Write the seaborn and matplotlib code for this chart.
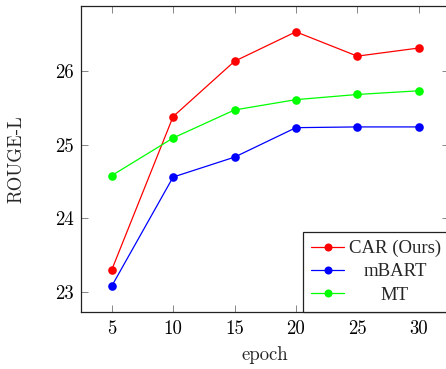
import matplotlib
matplotlib.use("Agg")
import matplotlib.pyplot as plt
from matplotlib.transforms import Affine2D
import seaborn as sns
import pandas as pd

epochs = [5, 10, 15, 20, 25, 30]
car = [23.30, 25.38, 26.13, 26.53, 26.20, 26.31]
mbart = [23.08, 24.56, 24.83, 25.23, 25.24, 25.24]
mt = [24.58, 25.09, 25.47, 25.61, 25.68, 25.73]
series_names = ["CAR (Ours)", "mBART", "MT"]
series_colors = ["#ff0000", "#0000ff", "#00ff00"]
xticks = [5, 10, 15, 20, 25, 30]
yticks = [23, 24, 25, 26]

sns.set_style("ticks")
plt.rcParams["font.family"] = ["cmr10", "DejaVu Serif"]
plt.rcParams["axes.unicode_minus"] = False
plt.rcParams["axes.formatter.use_mathtext"] = True

rows = []
for name, vals in zip(series_names, [car, mbart, mt]):
    for e, v in zip(epochs, vals):
        rows.append({"epoch": e, "score": v, "model": name})
df = pd.DataFrame(rows)

fig = plt.figure(figsize=(4.46, 3.69), dpi=100)
ax = fig.add_axes([81 / 446, 57 / 369, 368.4 / 446, 306 / 369])

sns.lineplot(data=df, x="epoch", y="score", hue="model", hue_order=series_names,
             palette=series_colors, marker="o", markersize=6.2, markeredgewidth=0,
             linewidth=0.9, ax=ax, legend=True)

ax.set_xlim(2.5, 32.5)
ax.set_ylim(22.73, 26.88)
ax.set_xticks(xticks)
ax.set_yticks(yticks)
ax.set_xticklabels([str(t) for t in xticks])
ax.set_yticklabels([str(t) for t in yticks])
ax.tick_params(direction="in", length=5, width=0.6, color="0.45", labelsize=13.5,
               top=True, right=True, labelcolor="black")
ax.tick_params(axis="x", pad=6)
ax.tick_params(axis="y", pad=5)
for s in ax.spines.values():
    s.set_linewidth(0.9)
    s.set_color("#222222")

ax.set_xlabel("epoch", fontsize=13.5)
ax.set_ylabel("ROUGE-L", fontsize=13.5)
ax.xaxis.set_label_coords(0.5, -0.11)
ax.yaxis.set_label_coords(-0.152, 0.5)

leg = ax.legend(loc="lower right", bbox_to_anchor=(1, 0), borderaxespad=0,
                prop={"family": ["Liberation Serif"], "size": 13.5},
                frameon=True, fancybox=False, handlelength=1.75,
                handletextpad=0.25, labelspacing=0.32, borderpad=0.45)
frame = leg.get_frame()
frame.set_edgecolor("#222222")
frame.set_linewidth(0.9)
frame.set_alpha(1)
for h in leg.legend_handles:
    h.set_markersize(5.8)

fig.canvas.draw()
r = fig.canvas.get_renderer()
texts = leg.get_texts()
widths = [t.get_window_extent(r).width for t in texts]
wmax = max(widths)
for t, w in zip(texts, widths):
    dx = (wmax - w) / 2
    t.set_transform(t.get_transform() + Affine2D().translate(dx, 0))

fig.savefig("out.png", dpi=100)
